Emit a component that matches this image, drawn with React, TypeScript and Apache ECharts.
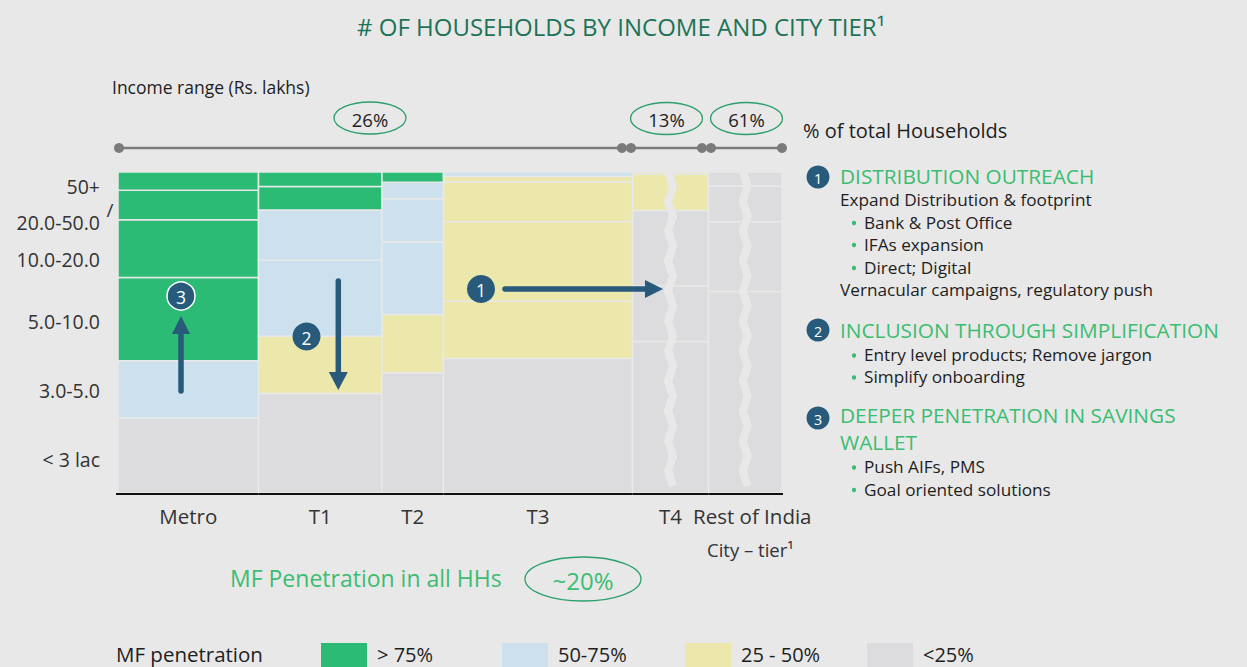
import React, { useEffect, useRef } from "react";
import * as echarts from "echarts";

// ---------- DATA ----------
const columns = ["Metro", "T1", "T2", "T3", "T4", "Rest of India"];
// relative drawn widths of each city-tier column (broken axis for T4 / Rest of India)
const columnWidths = [140.5, 123.5, 61.5, 189, 76, 73.5];
// income bands, bottom to top
const incomeBands = ["< 3 lac", "3.0-5.0", "5.0-10.0", "10.0-20.0", "20.0-50.0", "50+"];
// share of households (%) in each income band, bottom to top
const metroShares = [23.4, 17.8, 25.9, 18.0, 9.2, 5.7];
const t1Shares = [31.0, 17.8, 23.7, 15.7, 7.3, 4.5];
const t2Shares = [37.5, 18.1, 22.7, 13.4, 5.1, 3.2];
const t3Shares = [41.9, 17.8, 24.9, 12.3, 1.7, 1.4];
const t4Shares = [47.2, 17.4, 23.4, 11.4, 0, 0.6];
const roiShares = [62.8, 21.7, 11.1, 4.4, 0, 0];
// MF penetration class per cell: 0 = >75%, 1 = 50-75%, 2 = 25-50%, 3 = <25%
const metroPenetration = [3, 1, 0, 0, 0, 0];
const t1Penetration = [3, 2, 1, 1, 0, 0];
const t2Penetration = [3, 2, 1, 1, 1, 0];
const t3Penetration = [3, 2, 2, 2, 2, 1];
const t4Penetration = [3, 3, 3, 2, 2, 2];
const roiPenetration = [3, 3, 3, 3, 3, 3];
const brokenColumns = ["T4", "Rest of India"];
const householdShareLabels = ["26%", "13%", "61%"];
const overallPenetration = "~20%";
const penetrationLegend = ["> 75%", "50-75%", "25 - 50%", "<25%"];

// ---------- STYLE ----------
const BG = "#e8e8e8";
const penetrationColors = ["#2bbb74", "#cce1ed", "#ece7ab", "#dcdcde"];
const NAVY = "#285a7b";
const GREEN_TXT = "#3bbd72";
const TITLE_GREEN = "#1d7356";
const FONT = '"Open Sans", "Noto Sans", sans-serif';
const DARK = "#1e1e1e";

const shareTable = [metroShares, t1Shares, t2Shares, t3Shares, t4Shares, roiShares];
const penTable = [metroPenetration, t1Penetration, t2Penetration, t3Penetration, t4Penetration, roiPenetration];

function buildCells() {
  const cells: number[][] = [];
  const cols: number[][] = [];
  let xc = 0;
  columns.forEach((_, i) => {
    let yc = 0;
    shareTable[i].forEach((s, j) => {
      if (s > 0) cells.push([xc, xc + columnWidths[i], yc, yc + s, penTable[i][j]]);
      yc += s;
    });
    cols.push([xc, xc + columnWidths[i], i]);
    xc += columnWidths[i];
  });
  return { cells, cols, total: xc };
}

function txt(text: string, x: number, y: number, size: number, fill: string, align = "left", extra: any = {}) {
  return {
    type: "text",
    z: 20,
    x,
    y,
    style: {
      text,
      fill,
      fontSize: size,
      fontFamily: FONT,
      textAlign: align,
      textVerticalAlign: "middle",
      ...extra,
    },
  };
}

function badge(n: string, cx: number, cy: number, r: number, outline = false) {
  return [
    {
      type: "circle",
      z: 20,
      shape: { cx, cy, r },
      style: { fill: NAVY, stroke: outline ? "#ffffff" : NAVY, lineWidth: outline ? 1.5 : 0 },
    },
    txt(n, cx, cy + 1, r * 1.25, "#ffffff", "center"),
  ];
}

export default function App() {
  const ref = useRef<HTMLDivElement>(null);
  useEffect(() => {
    document.body.style.margin = "0";
    if (!ref.current) return;
    const chart = echarts.init(ref.current, null, { renderer: "svg" });
    const { cells, cols, total } = buildCells();

    const gridLeft = 118, gridTop = 172, gridW = 664, gridH = 321;
    const bandLabelY = [459, 390, 321, 259, 222, 186];

    const graphics: any[] = [];
    // Title
    graphics.push(txt("# OF HOUSEHOLDS BY INCOME AND CITY TIER¹", 621, 26, 24, TITLE_GREEN, "center"));
    graphics.push(txt("Income range (Rs. lakhs)", 112, 87, 17.5, DARK));
    // top bracket
    graphics.push({ type: "line", z: 10, shape: { x1: 119, y1: 148, x2: 782, y2: 148 }, style: { stroke: "#7b7b7b", lineWidth: 2.5 } });
    [119, 622, 631, 702, 711, 782].forEach((x) =>
      graphics.push({ type: "circle", z: 11, shape: { cx: x, cy: 148, r: 5 }, style: { fill: "#7b7b7b" } })
    );
    const ell = [
      [370, 118],
      [666.5, 118.5],
      [746.5, 118.5],
    ];
    householdShareLabels.forEach((l, i) => {
      graphics.push({
        type: "ellipse",
        z: 10,
        shape: { cx: ell[i][0], cy: ell[i][1], rx: 36, ry: 16 },
        style: { fill: "none", stroke: "#2aa06a", lineWidth: 1.3 },
      });
      graphics.push(txt(l, ell[i][0], ell[i][1] + 1, 18.5, DARK, "center"));
    });
    // y band labels
    incomeBands.forEach((b, j) => graphics.push(txt(b, 100, bandLabelY[j], 19.5, "#333333", "right")));
    graphics.push(txt("/", 110, 210, 19, "#333333", "center"));

    // arrows
    graphics.push({ type: "line", z: 15, shape: { x1: 181, y1: 391, x2: 181, y2: 330 }, style: { stroke: NAVY, lineWidth: 5.5, lineCap: "round" } });
    graphics.push({ type: "polygon", z: 15, shape: { points: [[181, 316], [190, 334], [172, 334]] }, style: { fill: NAVY } });
    graphics.push(...badge("3", 181, 296, 14, true));

    graphics.push({ type: "line", z: 15, shape: { x1: 338.3, y1: 281, x2: 338.3, y2: 376 }, style: { stroke: NAVY, lineWidth: 5.5, lineCap: "round" } });
    graphics.push({ type: "polygon", z: 15, shape: { points: [[338.3, 390], [347.8, 372], [328.8, 372]] }, style: { fill: NAVY } });
    graphics.push(...badge("2", 306.5, 336.5, 14));

    graphics.push({ type: "line", z: 15, shape: { x1: 505, y1: 289, x2: 648, y2: 289 }, style: { stroke: NAVY, lineWidth: 5.5, lineCap: "round" } });
    graphics.push({ type: "polygon", z: 15, shape: { points: [[663, 289], [645, 280], [645, 298]] }, style: { fill: NAVY } });
    graphics.push(...badge("1", 481, 289, 14));

    // bottom annotations
    graphics.push(txt("City – tier¹", 707, 549, 18.5, "#333333"));
    graphics.push(txt("MF Penetration in all HHs", 230, 578, 23, GREEN_TXT));
    graphics.push({
      type: "ellipse",
      z: 10,
      shape: { cx: 583, cy: 579, rx: 58, ry: 22 },
      style: { fill: "none", stroke: "#2aa06a", lineWidth: 1.3 },
    });
    graphics.push(txt(overallPenetration, 583, 580, 24, GREEN_TXT, "center"));

    // legend
    graphics.push(txt("MF penetration", 116, 654, 20.5, DARK));
    const legX = [321, 502, 685, 867];
    penetrationLegend.forEach((l, i) => {
      graphics.push({ type: "rect", z: 10, shape: { x: legX[i], y: 643, width: 46, height: 24 }, style: { fill: penetrationColors[i] } });
      graphics.push(txt(l, legX[i] + 56, 654, 20, DARK));
    });

    // right-hand text
    const HEAD = 20.8;
    const BODY = 17.2;
    graphics.push(txt("% of total Households", 803, 130, 20, DARK));
    graphics.push(...badge("1", 818, 177, 11.5));
    graphics.push(txt("DISTRIBUTION OUTREACH", 840, 175.5, HEAD, GREEN_TXT));
    graphics.push(txt("Expand Distribution & footprint", 840, 199.5, BODY, DARK));
    const bullet = (t: string, y: number) => {
      graphics.push({ type: "circle", z: 20, shape: { cx: 854, cy: y + 1, r: 2.2 }, style: { fill: GREEN_TXT } });
      graphics.push(txt(t, 864, y, BODY, DARK));
    };
    bullet("Bank & Post Office", 222);
    bullet("IFAs expansion", 244);
    bullet("Direct; Digital", 267);
    graphics.push(txt("Vernacular campaigns, regulatory push", 840, 289, BODY, DARK));
    graphics.push(...badge("2", 818, 330, 11.5));
    graphics.push(txt("INCLUSION THROUGH SIMPLIFICATION", 840, 329.5, HEAD, GREEN_TXT));
    bullet("Entry level products; Remove jargon", 354.5);
    bullet("Simplify onboarding", 376.5);
    graphics.push(...badge("3", 818, 418, 11.5));
    graphics.push(txt("DEEPER PENETRATION IN SAVINGS", 840, 415, HEAD, GREEN_TXT));
    graphics.push(txt("WALLET", 840, 441.5, HEAD, GREEN_TXT));
    bullet("Push AIFs, PMS", 466.5);
    bullet("Goal oriented solutions", 489);

    const breakData = brokenColumns.map((n) => {
      const c = cols[columns.indexOf(n)];
      return [(c[0] + c[1]) / 2];
    });

    chart.setOption({
      animation: false,
      backgroundColor: BG,
      grid: { left: gridLeft, top: gridTop, width: gridW, height: gridH },
      xAxis: { type: "value", min: 0, max: total, show: false },
      yAxis: { type: "value", min: 0, max: 100, show: false },
      series: [
        {
          type: "custom",
          z: 2,
          data: cells,
          encode: { x: [0, 1], y: [2, 3] },
          renderItem: (_p: any, api: any) => {
            const a = api.coord([api.value(0), api.value(3)]);
            const b = api.coord([api.value(1), api.value(2)]);
            return {
              type: "rect",
              shape: { x: a[0], y: a[1], width: b[0] - a[0], height: b[1] - a[1] },
              style: { fill: penetrationColors[api.value(4)], stroke: BG, lineWidth: 1.5 },
            };
          },
        },
        {
          type: "custom",
          z: 3,
          data: cols,
          encode: { x: [0, 1] },
          renderItem: (_p: any, api: any) => {
            const i = api.value(2);
            const a = api.coord([api.value(0), 0]);
            const b = api.coord([api.value(1), 0]);
            const last = i === columns.length - 1;
            const cx = (a[0] + b[0]) / 2 + (last ? 7 : 0);
            return {
              type: "group",
              children: [
                {
                  type: "line",
                  shape: { x1: a[0] - (i === 0 ? 2 : 0), y1: a[1] + 1, x2: b[0] + (last ? 1 : 0), y2: b[1] + 1 },
                  style: { stroke: "#111111", lineWidth: 2 },
                },
                {
                  type: "text",
                  x: cx,
                  y: a[1] + 23,
                  style: {
                    text: columns[i],
                    fill: "#333333",
                    fontSize: 20.5,
                    fontFamily: FONT,
                    textAlign: "center",
                    textVerticalAlign: "middle",
                  },
                },
              ],
            };
          },
        },
        {
          type: "custom",
          z: 4,
          data: breakData,
          encode: { x: 0 },
          renderItem: (_p: any, api: any) => {
            const top = api.coord([api.value(0), 100]);
            const bot = api.coord([api.value(0), 0]);
            const pts: number[][] = [];
            const y0 = top[1] - 1;
            const y1 = bot[1] + 7;
            let k = 0;
            for (let y = y0; y <= y1 + 0.01; y += 15) {
              pts.push([top[0] + (k % 2 === 0 ? -2.5 : 2.5), y]);
              k++;
            }
            return {
              type: "polyline",
              shape: { points: pts },
              style: { stroke: BG, lineWidth: 8, fill: "none" },
            };
          },
        },
      ],
      graphic: { elements: graphics },
    });
    return () => chart.dispose();
  }, []);
  return <div ref={ref} style={{ width: 1247, height: 667 }} />;
}
